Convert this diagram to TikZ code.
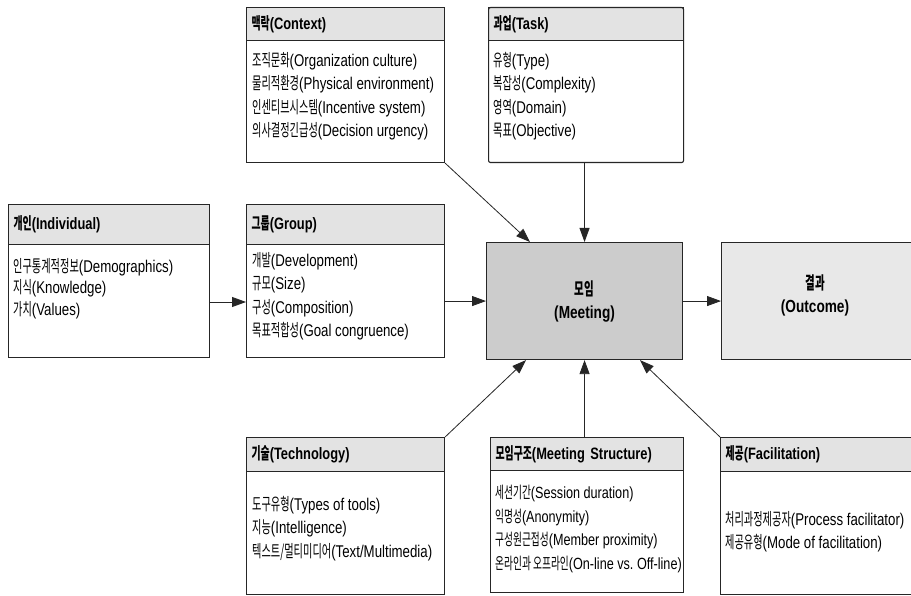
\documentclass[tikz,border=0pt]{standalone}
\usepackage{fontspec}
\setmainfont{Liberation Sans}[FakeStretch=0.78]
\newfontfamily\krfont{Noto Sans CJK KR}[FakeStretch=0.6]
\newcommand\K[1]{{\krfont #1}}
\frenchspacing
\usetikzlibrary{arrows.meta,calc}
\tikzset{
  boxframe/.style={draw=black!85, line width=1.1pt, rectangle, inner sep=0pt, anchor=north west},
  hdr/.style={draw=black!85, line width=1.1pt, fill=gray!22, rectangle, anchor=north west,
     inner xsep=5pt, inner ysep=0pt, align=left, font=\fontsize{16.5}{18}\selectfont\bfseries},
  bodytext/.style={anchor=north west, inner sep=0pt, align=left, font=\fontsize{17}{23.5}\selectfont},
  bigtext/.style={align=center, inner sep=0pt, font=\fontsize{17.5}{23}\selectfont\bfseries},
  arr/.style={draw=black!85, line width=0.8pt, -{Triangle[length=14pt,width=10pt]}}
}
\begin{document}
\begin{tikzpicture}[x=1pt,y=-1pt]
\useasboundingbox (0,0) rectangle (911,596);
\fill[white] (0,0) rectangle (911,596);

% Context
\node[hdr, minimum width=198pt, minimum height=33pt, text width=188pt] (ctxh) at (246,7) {\K{맥락}(Context)};
\node[boxframe, minimum width=198pt, minimum height=155pt] (ctx) at (246,7) {};
\node[bodytext] (ctxb) at (252,52) {\K{조직문화}(Organization culture)\\\K{물리적환경}(Physical environment)\\\K{인센티브시스템}(Incentive system)\\\K{의사결정긴급성}(Decision urgency)};

% Task
\node[hdr, minimum width=195pt, minimum height=33pt, text width=185pt] (taskh) at (488,7) {\K{과업}(Task)};
\node[boxframe, minimum width=195pt, minimum height=155pt, rounded corners=2pt] (task) at (488,7) {};
\node[bodytext] (taskb) at (493,52) {\K{유형}(Type)\\\K{복잡성}(Complexity)\\\K{영역}(Domain)\\\K{목표}(Objective)};

% Individual
\node[hdr, minimum width=201pt, minimum height=40pt, text width=191pt] (indh) at (8,204) {\K{개인}(Individual)};
\node[boxframe, minimum width=201pt, minimum height=153pt] (ind) at (8,204) {};
\node[bodytext, font=\fontsize{17}{21.5}\selectfont] (indb) at (13,258) {\K{인구통계적정보}(Demographics)\\\K{지식}(Knowledge)\\\K{가치}(Values)};

% Group
\node[hdr, minimum width=198pt, minimum height=40pt, text width=188pt] (grph) at (246,204) {\K{그룹}(Group)};
\node[boxframe, minimum width=198pt, minimum height=153pt] (grp) at (246,204) {};
\node[bodytext] (grpb) at (252,252) {\K{개발}(Development)\\\K{규모}(Size)\\\K{구성}(Composition)\\\K{목표적합성}(Goal congruence)};

% Meeting
\node[boxframe, fill=gray!40, minimum width=196pt, minimum height=117pt] (mtg) at (486,242) {};
\node[bigtext] (mtgt) at (mtg.center) {\K{\bfseries 모임}\\(Meeting)};

% Outcome
\node[boxframe, fill=gray!18, minimum width=200pt, minimum height=117pt] (out) at (721,242) {};
\node[bigtext] (outt) at (815,295) {\K{\bfseries 결과}\\(Outcome)};

% Technology
\node[hdr, minimum width=198pt, minimum height=34pt, text width=188pt] (tech) at (246,437) {\K{기술}(Technology)};
\node[boxframe, minimum width=198pt, minimum height=157pt] (techbox) at (246,437) {};
\node[bodytext] (techb) at (252,496) {\K{도구유형}(Types of tools)\\\K{지능}(Intelligence)\\\K{텍스트/멀티미디어}(Text/Multimedia)};

% Meeting Structure
\node[hdr, minimum width=193pt, minimum height=33pt, text width=183pt] (msh) at (490,437) {\K{모임구조}(Meeting~Structure)};
\node[boxframe, minimum width=193pt, minimum height=155pt] (ms) at (490,437) {};
\node[bodytext, font=\fontsize{16.2}{23.5}\selectfont] (msb) at (495,485) {\K{세션기간}(Session duration)\\\K{익명성}(Anonymity)\\\K{구성원근접성}(Member proximity)\\\K{온라인과 오프라인}(On-line vs. Off-line)};

% Facilitation
\node[hdr, minimum width=200pt, minimum height=34pt, text width=190pt] (fach) at (720,437) {\K{제공}(Facilitation)};
\node[boxframe, minimum width=200pt, minimum height=157pt] (fac) at (720,437) {};
\node[bodytext] (facb) at (725,511) {\K{처리과정제공자}(Process facilitator)\\\K{제공유형}(Mode of facilitation)};

% connectors
\coordinate (rowA) at (0,302);
\draw[arr] (ind.east |- rowA) -- (grp.west |- rowA);
\draw[arr] (grp.east |- mtg.west) -- (mtg.west);
\draw[arr] (mtg.east) -- (out.west);
\coordinate (ctxIn) at ($(mtg.north west)+(44,0)$);
\draw[arr] (ctx.south east) -- (ctxIn);
\draw[arr] (task.south -| mtg.north) -- (mtg.north);
\coordinate (techIn) at ($(mtg.south west)+(40,0)$);
\draw[arr] (techbox.north east) -- (techIn);
\draw[arr] (ms.north -| mtg.south) -- (mtg.south);
\coordinate (facIn) at ($(mtg.south west)+(154,0)$);
\draw[arr] (fac.north west) -- (facIn);
\end{tikzpicture}
\end{document}
